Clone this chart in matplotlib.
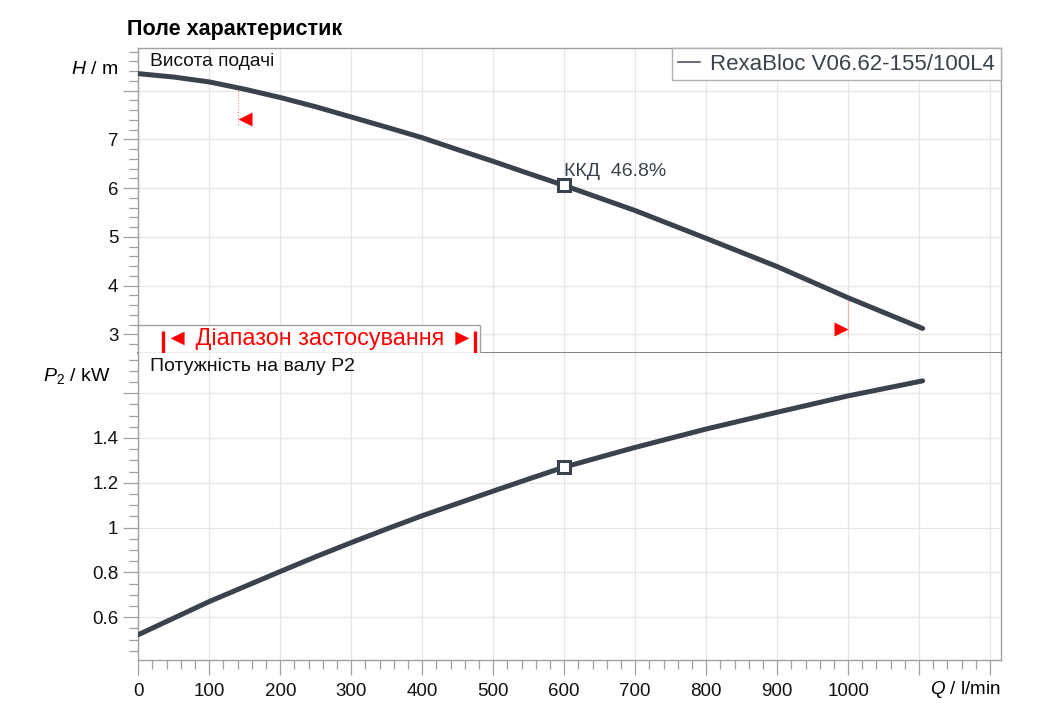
import numpy as np
import matplotlib
matplotlib.use('Agg')
import matplotlib.pyplot as plt
from matplotlib.lines import Line2D
from matplotlib.patches import Rectangle
from matplotlib import transforms

plt.rcParams['font.family'] = ['Liberation Sans', 'DejaVu Sans']
plt.rcParams['mathtext.fontset'] = 'custom'
plt.rcParams['mathtext.rm'] = 'Liberation Sans'
plt.rcParams['mathtext.it'] = 'Liberation Sans:italic'

## data
q = [0, 50, 100, 150, 200, 250, 300, 350, 400, 450, 500, 550, 600,
     700, 800, 900, 1000, 1105]
head = [8.35, 8.28, 8.18, 8.03, 7.86, 7.67, 7.46, 7.25, 7.035, 6.79, 6.55, 6.30, 6.055,
        5.54, 4.97, 4.39, 3.75, 3.12]
power = [0.522, 0.596, 0.670, 0.737, 0.804, 0.870, 0.933, 0.994, 1.053, 1.108, 1.163, 1.217, 1.27,
         1.358, 1.44, 1.515, 1.588, 1.655]
duty_q, duty_h, duty_p = 600, 6.055, 1.27
eff_label = 'ККД  46.8%'
q_min, q_max = 140, 1000
pump_name = 'RexaBloc V06.62-155/100L4'

x_ticks = list(range(0, 1300, 100))
x_labels = [str(v) if v <= 1000 else '' for v in x_ticks]
h_ticks = [3, 4, 5, 6, 7, 8]
h_labels = ['3', '4', '5', '6', '7', '']
p_ticks = [0.6, 0.8, 1.0, 1.2, 1.4, 1.6]
p_labels = ['0.6', '0.8', '1', '1.2', '1.4', '']

W, H = 1046, 726
curve_c = '#3a424d'
grid_c = '#e6e6e6'
spine_c = '#a0a0a0'

def fx(x):
    return x / W

def fy(y):
    return 1 - y / H

fig = plt.figure(figsize=(W / 100, H / 100), dpi=100)
left, right = 138.3, 1000.7
ax1 = fig.add_axes([fx(left), fy(353.3), fx(right - left), (353.3 - 48.3) / H])
ax2 = fig.add_axes([fx(left), fy(660), fx(right - left), (660 - 353.3) / H])

for ax in (ax1, ax2):
    ax.set_xlim(0, 1215)
    ax.set_xticks(x_ticks)
    ax.set_xticks(range(0, 1201, 20), minor=True)
    ax.grid(True, which='major', color=grid_c, lw=0.9)
    ax.set_axisbelow(True)
    for s in ax.spines.values():
        s.set_color(spine_c)
        s.set_linewidth(1.0)
    ax.tick_params(which='major', length=10.8, width=0.9, color=spine_c,
                   labelsize=13.5, pad=3.5, labelcolor='#111111')
    ax.tick_params(which='minor', length=6.5, width=0.9, color=spine_c)

ax1.tick_params(axis='x', which='both', bottom=False, labelbottom=False)
ax1.spines['bottom'].set_color('#808080')
ax1.spines['bottom'].set_linewidth(1.4)
ax2.spines['top'].set_visible(False)
ax2.tick_params(axis='x', pad=6)
ax2.set_xticklabels(x_labels)

# head curve
ax1.set_ylim(2.61, 8.87)
ax1.set_yticks(h_ticks)
ax1.set_yticks(np.arange(2.8, 8.81, 0.2), minor=True)
ax1.set_yticklabels(h_labels)
ax1.plot(q, head, color=curve_c, lw=3.6, solid_capstyle='round',
         solid_joinstyle='round', zorder=3)
ax1.plot([duty_q], [duty_h], marker='s', ms=8, mfc='white', mec=curve_c,
         mew=2.2, zorder=4)
ax1.annotate(eff_label, (duty_q, duty_h), xytext=(0, 4), textcoords='offset points',
             ha='left', va='bottom', fontsize=14, color=curve_c)

# range limits
h_at_min = np.interp(q_min, q, head)
h_at_max = np.interp(q_max, q, head)
ax1.plot([q_min, q_min], [h_at_min, 7.29], color='#ff8080', lw=0.8, ls=':', zorder=2)
ax1.plot([q_max, q_max], [h_at_max, 2.97], color='#ffb0b0', lw=0.8, zorder=2)
tr_l = transforms.offset_copy(ax1.transData, fig=fig, x=7, y=0, units='dots')
tr_r = transforms.offset_copy(ax1.transData, fig=fig, x=-7, y=0, units='dots')
ax1.plot([q_min], [7.42], marker='<', ms=10, color='red', mec='none',
         transform=tr_l, zorder=4)
ax1.plot([q_max], [3.115], marker='>', ms=10, color='red', mec='none',
         transform=tr_r, zorder=4)

# application range box
ax1.add_patch(Rectangle((0, 2.61), 481, 3.19 - 2.61, facecolor='white',
                        edgecolor=spine_c, lw=1.0, zorder=5, clip_on=False))
ax1.text(256, 2.915, '◄ Діапазон застосування ►', color='red', fontsize=16.8,
         ha='center', va='center', zorder=6)
ax1.vlines([35, 474], 2.61, 3.06, color='red', lw=2.4, zorder=6)

ax1.text(0.014, 0.985, 'Висота подачі', transform=ax1.transAxes, ha='left',
         va='top', fontsize=13.8, color='#111111')

leg = ax1.legend([Line2D([0], [0], color=curve_c, lw=1.1)], [pump_name],
                 loc='upper right', borderaxespad=0, fancybox=False,
                 fontsize=16, handlelength=1.0, handletextpad=0.45,
                 borderpad=0.25, labelcolor=curve_c, framealpha=1)
leg.get_frame().set_edgecolor('#b0b0b0')
leg.get_frame().set_linewidth(1.0)

# power curve
ax2.set_ylim(0.409, 1.778)
ax2.set_yticks(p_ticks)
ax2.set_yticks(np.arange(0.45, 1.76, 0.05), minor=True)
ax2.set_yticklabels(p_labels)
ax2.plot(q, power, color=curve_c, lw=3.6, solid_capstyle='round',
         solid_joinstyle='round', zorder=3)
ax2.plot([duty_q], [duty_p], marker='s', ms=8, mfc='white', mec=curve_c,
         mew=2.2, zorder=4)
ax2.text(0.014, 0.985, 'Потужність на валу P2', transform=ax2.transAxes,
         ha='left', va='top', fontsize=14, color='#111111')

# axis labels
fig.text(fx(118), fy(70), r'$H$ / m', ha='right', va='center', fontsize=14)
fig.text(fx(110), fy(376), r'$P_{\mathregular{2}}$ / kW', ha='right', va='center',
         fontsize=14)
fig.text(fx(right), fy(690), r'$Q$ / l/min', ha='right', va='center', fontsize=13.5)
fig.text(fx(127), fy(30), 'Поле характеристик', ha='left', va='center',
         fontsize=15.5, fontweight='bold')

fig.savefig('out.png', dpi=100, facecolor='white')
